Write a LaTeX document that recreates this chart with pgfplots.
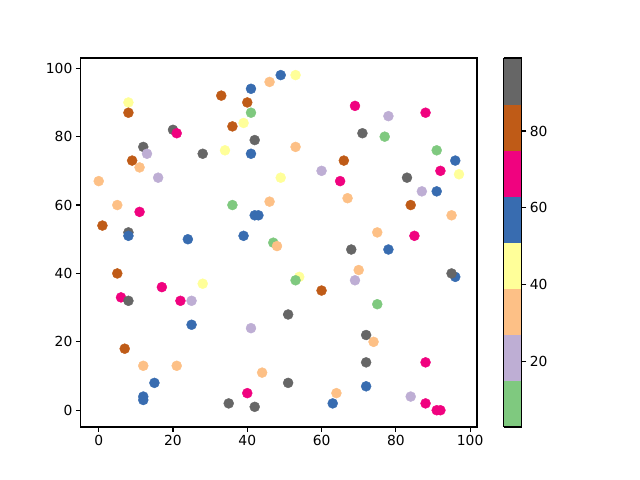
\documentclass[border=0pt]{standalone}
\usepackage{fontspec}
\setmainfont{DejaVu Sans}
\usepackage{pgfplots}
\pgfplotsset{compat=1.18}
\usepackage{pgfplotstable}

% x y c  (c read from the colour band: 9,21,33,45,57,69,81,93)
\pgfplotstableread{
x y c
49 98 57
46 96 33
41 94 57
8 90 45
33 92 81
40 90 81
8 87 81
41 87 9
36 83 81
39 84 45
20 82 93
21 81 69
42 79 93
12 77 93
13 75 21
28 75 93
34 76 45
41 75 57
9 73 81
11 71 33
16 68 21
0 67 33
49 68 45
5 60 33
11 58 69
36 60 9
46 61 33
42 57 57
43 57 57
1 54 81
8 52 93
8 51 57
24 50 57
39 51 57
47 49 9
48 48 33
53 98 45
69 89 69
78 86 21
88 87 69
71 81 93
77 80 9
53 77 33
91 76 9
96 73 57
66 73 81
60 70 21
92 70 69
97 69 45
65 67 69
67 62 33
83 68 93
87 64 21
91 64 57
84 60 81
95 57 33
75 52 33
85 51 69
5 40 81
17 36 69
28 37 45
6 33 69
8 32 93
22 32 69
25 32 21
25 25 57
41 24 21
7 18 81
12 13 33
21 13 33
44 11 33
15 8 57
12 4 57
12 3 57
40 5 69
35 2 93
42 1 93
68 47 93
78 47 57
70 41 33
69 38 21
54 39 45
53 38 9
60 35 81
96 39 57
95 40 93
75 31 9
51 28 93
72 22 93
74 20 33
72 14 93
88 14 69
51 8 93
64 5 33
72 7 57
63 2 57
84 4 21
88 2 69
91 0 69
92 0 69
}\pts

\pgfplotsset{
  every axis/.append style={
    tick label style={font=\fontsize{13.9}{16}\selectfont},
    /pgf/number format/assume math mode=true,
    tick align=outside,
    major tick length=4.86bp,
    every tick/.style={black, line width=1.11bp},
    axis line style={line width=1.11bp},
  },
}

\begin{document}
\begin{tikzpicture}
\path[use as bounding box] (0,0) rectangle (640bp,480bp);
\begin{axis}[
  at={(80.7bp,53bp)}, anchor=south west,
  scale only axis, width=396.3bp, height=369bp,
  xmin=-4.85, xmax=101.85, ymin=-4.9, ymax=103,
  xtick={0,20,...,100}, ytick={0,20,...,100},
  tick pos=left,
  colormap={accent}{
    rgb255=(127,201,127) rgb255=(190,174,212) rgb255=(253,192,134)
    rgb255=(255,255,153) rgb255=(56,108,176) rgb255=(240,2,127)
    rgb255=(191,91,23) rgb255=(102,102,102)},
  colormap access=piecewise constant,
  point meta min=3, point meta max=99,
  colorbar,
  colorbar style={
    at={(parent axis.north east)}, anchor=north west, xshift=18bp,
    scale only axis, width=18bp, height=369bp,
    ytick={20,40,60,80}, ytick pos=right,
    axis line style={line width=1.11bp},
  },
]
\addplot[scatter, only marks, mark=*, mark size=5bp,
  point meta=explicit,
  scatter/use mapped color={draw=mapped color, fill=mapped color}]
  table[x=x, y=y, meta=c] {\pts};
\end{axis}
\end{tikzpicture}
\end{document}
